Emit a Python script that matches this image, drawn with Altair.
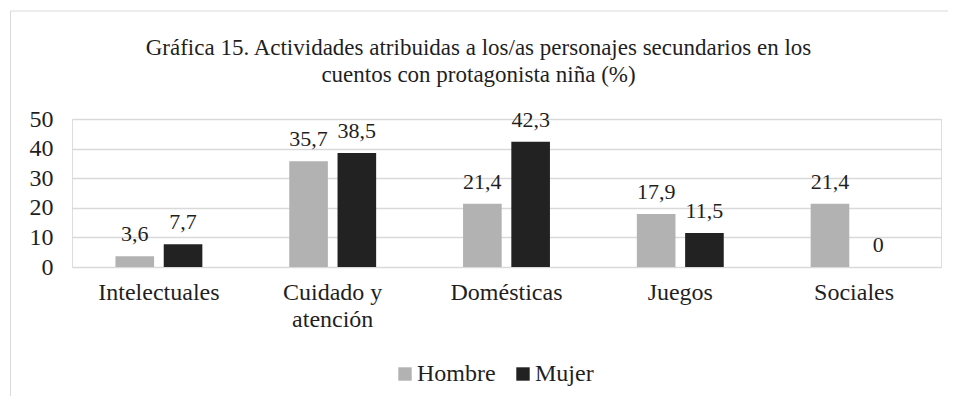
import altair as alt
import pandas as pd

categories = ["Intelectuales", "Cuidado y atención", "Domésticas", "Juegos", "Sociales"]
series = ["Hombre", "Mujer"]
hombre = [3.6, 35.7, 21.4, 17.9, 21.4]
mujer = [7.7, 38.5, 42.3, 11.5, 0]
colors = ["#B2B2B2", "#222222"]
title_lines = [
    "Gráfica 15. Actividades atribuidas a los/as personajes secundarios en los",
    "cuentos con protagonista niña (%)",
]

rows = []
for c, h, m in zip(categories, hombre, mujer):
    for s, v in zip(series, [h, m]):
        lab = ("%g" % v).replace(".", ",")
        rows.append({"cat": c, "serie": s, "valor": v, "etiqueta": lab})
df = pd.DataFrame(rows)

FONT = "Liberation Serif"
TXT = "#1F1F1F"

x_enc = alt.X(
    "cat:N",
    sort=categories,
    title=None,
    scale=alt.Scale(paddingInner=0.5, paddingOuter=0.25),
    axis=alt.Axis(
        labelAngle=0,
        labelFont=FONT,
        labelFontSize=24,
        labelColor=TXT,
        labelPadding=13,
        labelLineHeight=27,
        labelLimit=300,
        ticks=False,
        domain=False,
        labelExpr="datum.value == 'Cuidado y atención' ? ['Cuidado y', 'atención'] : datum.value",
    ),
)
xoff = alt.XOffset("serie:N", sort=series, scale=alt.Scale(paddingInner=0.2, paddingOuter=0))
y_enc = alt.Y(
    "valor:Q",
    title=None,
    scale=alt.Scale(domain=[0, 50], nice=False),
    axis=alt.Axis(
        values=[0, 10, 20, 30, 40, 50],
        labelFont=FONT,
        labelFontSize=24,
        labelColor=TXT,
        labelPadding=19,
        labelOverlap=False,
        labelBound=False,
        ticks=False,
        domain=False,
        grid=True,
        gridColor="#D9D9D9",
        gridWidth=1.3,
    ),
)

base = alt.Chart(df)
bars = base.mark_bar().encode(
    x=x_enc,
    xOffset=xoff,
    y=y_enc,
    color=alt.Color(
        "serie:N",
        sort=series,
        scale=alt.Scale(domain=series, range=colors),
        legend=alt.Legend(
            title=None,
            orient="none",
            direction="horizontal",
            legendX=321,
            legendY=243,
            symbolType="square",
            symbolSize=180,
            symbolStrokeWidth=0,
            labelFont=FONT,
            labelFontSize=24,
            labelColor=TXT,
            labelOffset=0,
            columnPadding=15,
            padding=0,
        ),
    ),
)
texts = base.mark_text(
    font=FONT, fontSize=22, color=TXT, baseline="alphabetic", dy=-15
).encode(
    x=x_enc,
    xOffset=xoff,
    y=y_enc,
    text="etiqueta:N",
)

frame_df = pd.DataFrame({"k": [0]})
border_top = alt.Chart(frame_df).mark_rule(color="#D9D9D9", strokeWidth=1).encode(
    x=alt.value(-61.5), x2=alt.value(876), y=alt.value(-108), y2=alt.value(-108)
)
border_left = alt.Chart(frame_df).mark_rule(color="#D9D9D9", strokeWidth=1).encode(
    x=alt.value(-61.5), x2=alt.value(-61.5), y=alt.value(-108), y2=alt.value(277)
)

chart = (
    alt.layer(bars, texts, border_top, border_left)
    .properties(
        width=869,
        height=148,
        padding={"left": 2, "top": 2, "right": 0, "bottom": 0},
        title=alt.TitleParams(
            text=title_lines,
            font=FONT,
            fontSize=23,
            fontWeight="normal",
            color=TXT,
            anchor="middle",
            lineHeight=27,
            offset=-76,
            dx=-28,
        ),
    )
    .configure_view(stroke=None)
    .configure(background="white")
)

chart.save("out.html", embed_options={"renderer": "svg", "actions": False})
